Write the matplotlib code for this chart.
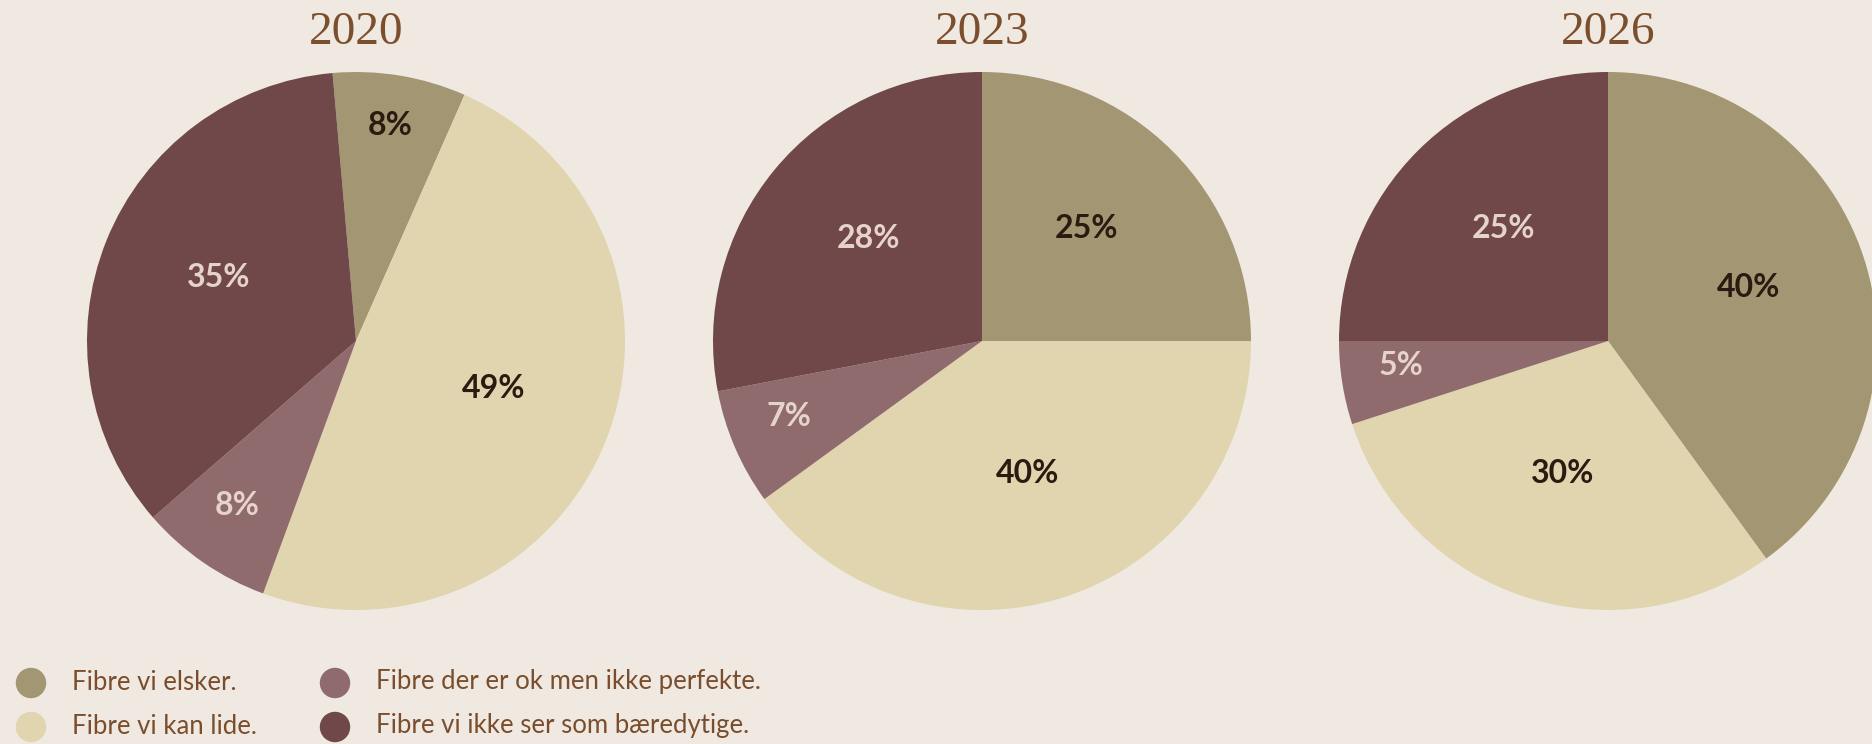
import matplotlib
matplotlib.use("Agg")
import matplotlib.pyplot as plt
import numpy as np

# ---- data ----
years = ["2020", "2023", "2026"]
categories = [
    "Fibre vi elsker.",
    "Fibre vi kan lide.",
    "Fibre der er ok men ikke perfekte.",
    "Fibre vi ikke ser som bæredytige.",
]
values_2020 = [8, 49, 8, 35]
values_2023 = [25, 40, 7, 28]
values_2026 = [40, 30, 5, 25]
all_values = [values_2020, values_2023, values_2026]
start_angles = [95, 90, 90]

# ---- style ----
BG = "#F0E9E2"
colors = ["#A39672", "#E0D5AF", "#8F6B6E", "#70484A"]
label_colors = ["#2B1A10", "#2B1A10", "#E6D3CC", "#E6D3CC"]
TITLE_COLOR = "#7B4F2D"
LEGEND_COLOR = "#7A4E2D"

W, H = 1872, 744
fig = plt.figure(figsize=(W / 100, H / 100), dpi=100, facecolor=BG)

centers_x = [356, 982, 1608]
center_y = 341
radius = 269

for i, (yr, vals) in enumerate(zip(years, all_values)):
    cx = centers_x[i]
    ax = fig.add_axes([(cx - radius) / W, (H - center_y - radius) / H,
                       2 * radius / W, 2 * radius / H])
    ax.set_facecolor(BG)
    wedges, _ = ax.pie(vals, colors=colors, startangle=start_angles[i],
                       counterclock=False, radius=1.0,
                       wedgeprops=dict(linewidth=0))
    for w, v, lc in zip(wedges, vals, label_colors):
        mid = np.deg2rad((w.theta1 + w.theta2) / 2)
        r = 0.78 if v < 10 else 0.55
        ax.text(r * np.cos(mid), r * np.sin(mid) + 0.03, f"{v}%",
                ha="center", va="center", fontsize=23,
                fontfamily="Lato", fontweight="bold", color=lc)
    ax.set_xlim(-1, 1)
    ax.set_ylim(-1, 1)
    ax.set_aspect("equal")
    ax.axis("off")
    fig.text(cx / W, 1 - 33 / H, yr, ha="center", va="center",
             fontsize=34, fontfamily="Liberation Serif", color=TITLE_COLOR)

# ---- legend (manual) ----
lax = fig.add_axes([0, 0, 1, 1])
lax.set_xlim(0, W)
lax.set_ylim(H, 0)
lax.axis("off")
col_x = [31, 335]
row_y = [683, 727]
for k, (cat, col) in enumerate(zip(categories, colors)):
    c, r = divmod(k, 2)
    lax.scatter([col_x[c]], [row_y[r]], s=480, color=col, edgecolors="none")
    lax.text(col_x[c] + 41, row_y[r] - 1, cat, ha="left", va="center",
             fontsize=18.5, fontfamily="Lato", fontweight="normal",
             color=LEGEND_COLOR)

fig.savefig("out.png", dpi=100, facecolor=BG)
